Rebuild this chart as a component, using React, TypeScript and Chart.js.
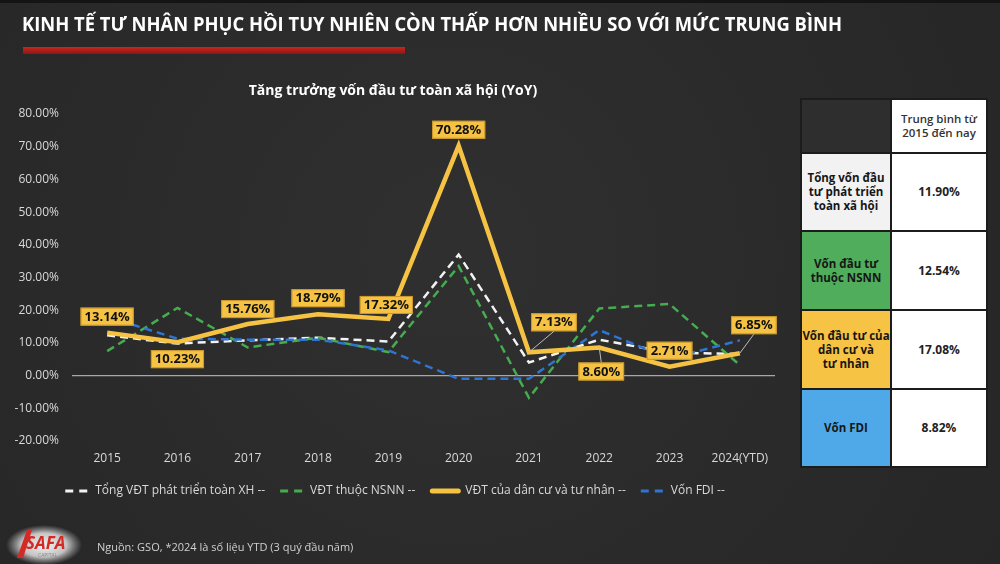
import React, { useEffect, useRef } from "react";
import { Chart, registerables } from "chart.js";

Chart.register(...registerables);

// ---------- data ----------
const years = ["2015", "2016", "2017", "2018", "2019", "2020", "2021", "2022", "2023", "2024(YTD)"];
const totalSeries = [12.3, 9.8, 10.8, 11.6, 10.4, 37.0, 4.0, 11.0, 7.0, 6.6];
const budgetSeries = [7.5, 20.7, 8.6, 11.6, 7.2, 33.5, -6.8, 20.5, 21.9, 3.2];
const privateSeries = [13.14, 10.23, 15.76, 18.79, 17.32, 70.28, 7.13, 8.6, 2.71, 6.85];
const fdiSeries = [18.0, 11.3, 11.0, 11.0, 7.7, -1.0, -1.0, 13.9, 5.2, 10.8];
const seriesNames = [
  "Tổng VĐT phát triển toàn XH --",
  "VĐT thuộc NSNN --",
  "VĐT của dân cư và tư nhân --",
  "Vốn FDI --",
];
const yMin = -20;
const yMax = 80;
const yStep = 10;

const mainTitle = "KINH TẾ TƯ NHÂN PHỤC HỒI TUY NHIÊN CÒN THẤP HƠN NHIỀU SO VỚI MỨC TRUNG BÌNH";
const chartTitle = "Tăng trưởng vốn đầu tư toàn xã hội (YoY)";
const sourceNote = "Nguồn: GSO, *2024 là số liệu YTD (3 quý đầu năm)";

const tableHeader = ["Trung bình từ", "2015 đến nay"];
const tableLabels = [
  ["Tổng vốn đầu", "tư phát triển", "toàn xã hội"],
  ["Vốn đầu tư", "thuộc NSNN"],
  ["Vốn đầu tư của", "dân cư và", "tư nhân"],
  ["Vốn FDI"],
];
const tableValues = ["11.90%", "12.54%", "17.08%", "8.82%"];

// ---------- styles ----------
const COLORS = {
  bg: "#2b2b2b",
  white: "#f2f2f2",
  green: "#45ac4f",
  yellow: "#f5c243",
  blue: "#2f74d0",
  text: "#d9d9d9",
};
const tableCellColors = ["#f2f2f2", "#4fad5b", "#f6c344", "#4fa9e8"];

// label offsets for the private-sector data labels (dx, dy, leader line)
const labelOffsets: [number, number, boolean][] = [
  [0, -16, false],
  [0, 17, false],
  [0, -15, false],
  [0, -16, false],
  [-2, -14, false],
  [0, -16, false],
  [25, -30, true],
  [2, 24, true],
  [0, -16, false],
  [14, -28, true],
];

const FONT = "'Open Sans', 'Noto Sans', sans-serif";

const decorPlugin = {
  id: "decor",
  beforeDraw(chart: any) {
    const ctx = chart.ctx as CanvasRenderingContext2D;
    const W = chart.width;
    const H = chart.height;
    ctx.save();
    const g = ctx.createRadialGradient(W * 0.45, H * 0.45, 50, W * 0.45, H * 0.45, W * 0.7);
    g.addColorStop(0, "#2f2f2f");
    g.addColorStop(1, "#252525");
    ctx.fillStyle = g;
    ctx.fillRect(0, 0, W, H);
    ctx.fillStyle = "#141414";
    ctx.fillRect(0, 0, W, 3);

    // main title
    ctx.font = `bold 20px ${FONT}`;
    const tw = ctx.measureText(mainTitle).width;
    const sx = 820 / tw;
    ctx.translate(22, 25);
    ctx.scale(sx, 1);
    ctx.fillStyle = "#ffffff";
    ctx.textBaseline = "middle";
    ctx.textAlign = "left";
    ctx.fillText(mainTitle, 0, 0);
    ctx.restore();

    // red bar
    ctx.save();
    const rg = ctx.createLinearGradient(0, 47, 0, 54);
    rg.addColorStop(0, "#c8261f");
    rg.addColorStop(1, "#8e1612");
    ctx.fillStyle = rg;
    ctx.fillRect(23, 47, 382, 7);

    // chart title
    ctx.font = `bold 14px ${FONT}`;
    ctx.fillStyle = "#ffffff";
    ctx.textAlign = "center";
    ctx.textBaseline = "middle";
    ctx.fillText(chartTitle, 393, 91);

    // legend
    const datasets = chart.data.datasets;
    ctx.font = `12px ${FONT}`;
    const sampleW = [25, 25, 30, 25];
    const gapSample = 5;
    const gapItem = 15;
    let total = 0;
    const widths = seriesNames.map((n) => ctx.measureText(n).width);
    seriesNames.forEach((_, i) => {
      total += sampleW[i] + gapSample + widths[i] + (i < seriesNames.length - 1 ? gapItem : 0);
    });
    let x = 395 - total / 2;
    const ly = 491;
    seriesNames.forEach((name, i) => {
      const ds = datasets[i];
      ctx.save();
      ctx.strokeStyle = ds.borderColor;
      if (i === 2) {
        ctx.lineWidth = 5;
        ctx.lineCap = "round";
        ctx.beginPath();
        ctx.moveTo(x + 2, ly);
        ctx.lineTo(x + sampleW[i] - 2, ly);
        ctx.stroke();
      } else {
        ctx.lineWidth = 3;
        ctx.beginPath();
        ctx.moveTo(x, ly);
        ctx.lineTo(x + 8, ly);
        ctx.moveTo(x + 14, ly);
        ctx.lineTo(x + 22, ly);
        ctx.stroke();
      }
      ctx.restore();
      x += sampleW[i] + gapSample;
      ctx.fillStyle = "#d9d9d9";
      ctx.textAlign = "left";
      ctx.textBaseline = "middle";
      ctx.fillText(name, x, ly);
      x += widths[i] + gapItem;
    });

    // footer
    ctx.font = `11px ${FONT}`;
    ctx.fillStyle = "#d0d0d0";
    ctx.textAlign = "left";
    ctx.fillText(sourceNote, 97, 548);

    // logo glow (radial gradient ellipse)
    ctx.save();
    ctx.translate(44, 545);
    ctx.scale(1.9, 1);
    const lg = ctx.createRadialGradient(0, 0, 2, 0, 0, 20);
    lg.addColorStop(0, "rgba(245,245,245,0.95)");
    lg.addColorStop(0.55, "rgba(235,235,235,0.8)");
    lg.addColorStop(1, "rgba(200,200,200,0)");
    ctx.fillStyle = lg;
    ctx.beginPath();
    ctx.arc(0, 0, 20, 0, Math.PI * 2);
    ctx.fill();
    ctx.restore();
    // logo mark
    ctx.save();
    ctx.fillStyle = "#d42a26";
    ctx.beginPath();
    ctx.moveTo(17, 558);
    ctx.lineTo(27, 530);
    ctx.lineTo(32, 530);
    ctx.lineTo(23, 558);
    ctx.closePath();
    ctx.fill();
    ctx.font = `italic bold 17px ${FONT}`;
    ctx.textBaseline = "middle";
    ctx.fillText("SAFA", 26, 544);
    ctx.font = `5px ${FONT}`;
    ctx.fillStyle = "#888";
    ctx.fillText("CAPITAL", 38, 556);
    ctx.restore();
    ctx.restore();
  },
};

const labelPlugin = {
  id: "yellowLabels",
  afterDatasetsDraw(chart: any) {
    const ctx = chart.ctx as CanvasRenderingContext2D;
    const meta = chart.getDatasetMeta(2);
    ctx.save();
    ctx.font = `bold 13px ${FONT}`;
    ctx.textAlign = "center";
    ctx.textBaseline = "middle";
    meta.data.forEach((pt: any, i: number) => {
      const [dx, dy, leader] = labelOffsets[i];
      const v = privateSeries[i];
      const text = v.toFixed(2) + "%";
      const w = ctx.measureText(text).width + 8;
      const h = 18;
      const cx = pt.x + dx;
      const cy = pt.y + dy;
      if (leader) {
        ctx.strokeStyle = "#bdbdbd";
        ctx.lineWidth = 1;
        ctx.beginPath();
        ctx.moveTo(pt.x, pt.y);
        const ey = dy < 0 ? cy + h / 2 : cy - h / 2;
        ctx.lineTo(cx, ey);
        ctx.stroke();
      }
      ctx.fillStyle = COLORS.yellow;
      ctx.fillRect(cx - w / 2, cy - h / 2, w, h);
      ctx.strokeStyle = "#c8962c";
      ctx.lineWidth = 1;
      ctx.strokeRect(cx - w / 2 + 0.5, cy - h / 2 + 0.5, w - 1, h - 1);
      ctx.fillStyle = "#111";
      ctx.fillText(text, cx, cy + 0.5);
    });
    ctx.restore();
  },
};

function ChartCanvas() {
  const ref = useRef<HTMLCanvasElement | null>(null);
  useEffect(() => {
    if (!ref.current) return;
    const dashed = [8, 5];
    const chart = new Chart(ref.current, {
      type: "line",
      data: {
        labels: years,
        datasets: [
          {
            label: seriesNames[0],
            data: totalSeries,
            borderColor: COLORS.white,
            borderWidth: 2.5,
            borderDash: dashed,
            pointRadius: 0,
            tension: 0,
            order: 3,
          },
          {
            label: seriesNames[1],
            data: budgetSeries,
            borderColor: COLORS.green,
            borderWidth: 2.5,
            borderDash: dashed,
            pointRadius: 0,
            tension: 0,
            order: 2,
          },
          {
            label: seriesNames[2],
            data: privateSeries,
            borderColor: COLORS.yellow,
            borderWidth: 4.5,
            pointRadius: 0,
            tension: 0,
            borderJoinStyle: "miter",
            order: 0,
          },
          {
            label: seriesNames[3],
            data: fdiSeries,
            borderColor: COLORS.blue,
            borderWidth: 2.5,
            borderDash: dashed,
            pointRadius: 0,
            tension: 0,
            order: 1,
          },
        ] as any,
      },
      options: {
        animation: false,
        responsive: false,
        maintainAspectRatio: false,
        layout: { padding: { left: 0, right: 225, top: 114, bottom: 93 } },
        plugins: {
          legend: { display: false },
          title: { display: false },
          tooltip: { enabled: false },
        },
        scales: {
          x: {
            offset: true,
            grid: { display: false, drawTicks: false },
            border: { display: false },
            ticks: {
              color: COLORS.text,
              font: { family: FONT, size: 12 },
              padding: 10,
              maxRotation: 0,
              autoSkip: false,
            },
            afterFit: (s: any) => {
              s.height = 30;
            },
          },
          y: {
            min: yMin,
            max: yMax,
            border: { display: false },
            grid: {
              drawTicks: false,
              color: (c: any) => (c.tick && c.tick.value === 0 ? "#a8a8a8" : "rgba(0,0,0,0)"),
              lineWidth: 1.2,
            },
            ticks: {
              stepSize: yStep,
              color: COLORS.text,
              font: { family: FONT, size: 12 },
              padding: 13,
              callback: (v: any) => Number(v).toFixed(2) + "%",
            },
            afterFit: (s: any) => {
              s.width = 72;
            },
          },
        },
      },
      plugins: [decorPlugin, labelPlugin],
    });
    return () => chart.destroy();
  }, []);
  return <canvas ref={ref} width={1000} height={564} style={{ width: 1000, height: 564, display: "block" }} />;
}

function SideTable() {
  const cell: React.CSSProperties = {
    display: "flex",
    alignItems: "center",
    justifyContent: "center",
    textAlign: "center",
    fontFamily: FONT,
    fontWeight: 700,
    fontSize: 11.5,
    lineHeight: "14px",
    color: "#161616",
  };
  return (
    <div
      style={{
        position: "absolute",
        left: 800,
        top: 98,
        width: 188,
        height: 370,
        boxSizing: "border-box",
        padding: 2,
        background: "#1c1c1c",
        display: "grid",
        gridTemplateColumns: "88px 94px",
        gridTemplateRows: "52px 76px 77px 77px 76px",
        gap: 2,
      }}
    >
      <div style={{ background: "#2e2e2e" }} />
      <div style={{ ...cell, background: "#ffffff", fontWeight: 600, color: "#333", fontSize: 11.5 }}>
        <div>
          {tableHeader[0]}
          <br />
          {tableHeader[1]}
        </div>
      </div>
      {tableLabels.map((lines, i) => (
        <React.Fragment key={i}>
          <div style={{ ...cell, background: tableCellColors[i] }}>
            <div>
              {lines.map((l, j) => (
                <React.Fragment key={j}>
                  {l}
                  {j < lines.length - 1 ? <br /> : null}
                </React.Fragment>
              ))}
            </div>
          </div>
          <div style={{ ...cell, background: "#ffffff", fontSize: 12, color: "#222" }}>{tableValues[i]}</div>
        </React.Fragment>
      ))}
    </div>
  );
}

export default function App() {
  return (
    <div
      style={{
        position: "fixed",
        left: 0,
        top: 0,
        width: 1000,
        height: 564,
        background: COLORS.bg,
        overflow: "hidden",
      }}
    >
      <ChartCanvas />
      <SideTable />
    </div>
  );
}
